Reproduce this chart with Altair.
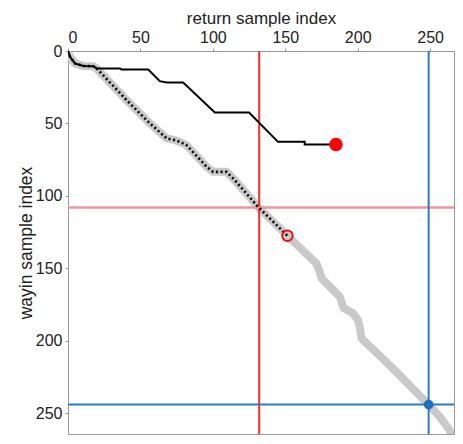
import altair as alt
import pandas as pd

# black solid path (return vs wayin matched path)
black_x = [0, 1.4, 4.8, 10.6, 17.4, 19.8, 35.9, 37, 55.4, 63.4, 68, 79.5, 101.4, 125, 145, 163.4, 163.4, 185]
black_y = [0, 4, 8.6, 10.3, 10.5, 12, 12, 12.8, 12.8, 20.8, 21.7, 21.7, 42.4, 42.4, 62.7, 62.7, 64.5, 64.5]

# gray thick path
gray_x = [0, 1.4, 4.8, 10.6, 17.4, 19.8, 40.5, 56.6, 65.7, 68.1, 73.8, 77.2, 81.9, 95.7, 100.2, 109.4, 114,
          131.2, 151.5, 171.5, 173.8, 175, 187.6, 190.3, 196.8, 200.2, 201.4, 202.6, 224.3, 248.5, 256.6,
          260, 263.4, 265.7, 267]
gray_y = [0, 4, 8.6, 10.3, 10.5, 12, 33.9, 50, 58.1, 60.3, 61.5, 62.7, 65, 79.9, 83.4, 83.4, 87.9,
          107.5, 127.5, 146.6, 152.3, 156.7, 169.6, 177.4, 181, 185.7, 190.3, 198.3, 219, 243.6, 252.3,
          256.9, 261.5, 267.2, 271]

# dotted path covers the gray path up to the open circle
n_dotted = 19

red_vline_x = [132]
pink_hline_y = [108]
blue_vline_x = [249]
blue_hline_y = [244]

red_dot = ([185], [64.5])
open_circle = ([151.5], [127.5])
blue_dot = ([249], [244])

x_ticks = [0, 50, 100, 150, 200, 250]
y_ticks = [0, 50, 100, 150, 200, 250]

FONT = "Liberation Sans"

xscale = alt.Scale(domain=[0, 266.5], nice=False, zero=False)
yscale = alt.Scale(domain=[0, 264.3], nice=False, zero=False, reverse=True)

xaxis = alt.Axis(orient="top", title="return sample index", values=x_ticks, grid=False,
                 domainColor="#999999", tickColor="#999999", tickSize=3, labelPadding=3,
                 labelFontSize=16, titleFontSize=17, labelColor="#222222", titleColor="#222222",
                 labelFont=FONT, titleFont=FONT, titleFontWeight="normal", titlePadding=2)
yaxis = alt.Axis(title="wayin sample index", values=y_ticks, grid=False,
                 domainColor="#999999", tickColor="#999999", tickSize=3, labelPadding=3,
                 labelFontSize=16, titleFontSize=17.5, labelColor="#222222", titleColor="#222222",
                 labelFont=FONT, titleFont=FONT, titleFontWeight="normal", titlePadding=0)

df_black = pd.DataFrame({"x": black_x, "y": black_y, "o": range(len(black_x))})
df_gray = pd.DataFrame({"x": gray_x, "y": gray_y, "o": range(len(gray_x))})
df_dot = df_gray.iloc[:n_dotted]

X = alt.X("x:Q", scale=xscale, axis=xaxis)
Y = alt.Y("y:Q", scale=yscale, axis=yaxis)

gray = alt.Chart(df_gray).mark_line(color="#c9c9c9", strokeWidth=8, clip=True).encode(
    x=X, y=Y, order="o:Q")

dotted = alt.Chart(df_dot).mark_line(color="#111111", strokeWidth=2.6, strokeDash=[2.2, 2.4],
                                     clip=True).encode(x=X, y=Y, order="o:Q")

black = alt.Chart(df_black).mark_line(color="#000000", strokeWidth=2, clip=True).encode(
    x=X, y=Y, order="o:Q")

vred = alt.Chart(pd.DataFrame({"x": red_vline_x})).mark_rule(color="#ff2a2a", strokeWidth=2).encode(
    x=alt.X("x:Q", scale=xscale, axis=xaxis))
hpink = alt.Chart(pd.DataFrame({"y": pink_hline_y})).mark_rule(color="#f0939b", strokeWidth=2.5).encode(
    y=alt.Y("y:Q", scale=yscale, axis=yaxis))
vblue = alt.Chart(pd.DataFrame({"x": blue_vline_x})).mark_rule(color="#2b7cc8", strokeWidth=2).encode(
    x=alt.X("x:Q", scale=xscale, axis=xaxis))
hblue = alt.Chart(pd.DataFrame({"y": blue_hline_y})).mark_rule(color="#2b7cc8", strokeWidth=2).encode(
    y=alt.Y("y:Q", scale=yscale, axis=yaxis))

p_red = alt.Chart(pd.DataFrame({"x": red_dot[0], "y": red_dot[1]})).mark_point(
    filled=True, color="#ff0000", size=180, opacity=1).encode(x=X, y=Y)
p_open = alt.Chart(pd.DataFrame({"x": open_circle[0], "y": open_circle[1]})).mark_point(
    filled=False, color="#e8101a", size=110, strokeWidth=2, opacity=1).encode(x=X, y=Y)
p_blue = alt.Chart(pd.DataFrame({"x": blue_dot[0], "y": blue_dot[1]})).mark_point(
    filled=True, color="#1f6fc0", size=95, opacity=1).encode(x=X, y=Y)

chart = alt.layer(gray, vred, hpink, vblue, hblue, dotted, black, p_red, p_open, p_blue).properties(
    width=386, height=383,
    autosize=alt.AutoSizeParams(type="none"),
    padding={"left": 60, "top": 43, "right": 1, "bottom": 1},
).configure_view(stroke="#999999", strokeWidth=1)

chart.save("out.html", embed_options={"renderer": "svg", "actions": False})
